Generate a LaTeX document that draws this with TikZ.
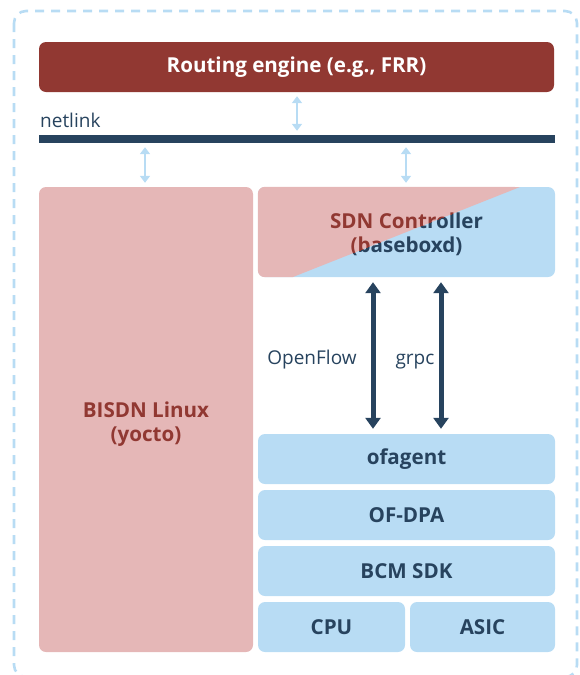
\documentclass[tikz,border=0pt]{standalone}
\usepackage{fontspec}
\setmainfont{Open Sans}
\usetikzlibrary{arrows.meta}
\definecolor{dred}{HTML}{913832}
\definecolor{pinkf}{HTML}{E5B7B7}
\definecolor{lblue}{HTML}{B8DCF4}
\definecolor{navy}{HTML}{27435E}
\begin{document}
\begin{tikzpicture}[x=1pt,y=-1pt,
  blk/.style={rounded corners=7pt, inner sep=0pt, font=\fontsize{20.6}{24}\selectfont\bfseries, align=center},
  bluebox/.style={blk, fill=lblue, text=navy},
  pinkbox/.style={blk, fill=pinkf, text=dred},
  lbl/.style={inner sep=0pt, text=navy, font=\fontsize{19}{24}\selectfont},
  larr/.style={draw=lblue, line width=2.6pt, {Triangle[width=10pt,length=7pt]}-{Triangle[width=10pt,length=7pt]}},
  darr/.style={draw=navy, line width=5pt, {Triangle[width=15pt,length=11pt]}-{Triangle[width=15pt,length=11pt]}}
]
\useasboundingbox (0,0) rectangle (579,675);
% outer dashed frame
\draw[lblue, line width=2.6pt, dash pattern=on 9pt off 7pt, rounded corners=12pt] (14,11) rectangle (577,677);

% routing engine
\node[blk, fill=dred, text=white, minimum width=515pt, minimum height=50pt] (re) at (296.5,67) {Routing engine (e.g., FRR)};
% netlink bar
\node[fill=navy, inner sep=0pt, minimum width=516pt, minimum height=8pt] (bar) at (297,139) {};
\node[lbl, anchor=base west] (nl) at (40,127) {netlink};

% left box
\node[pinkbox, minimum width=214pt, minimum height=465pt] (bisdn) at (146,419.5) {};
\node[blk, text=dred] (bisdnt) at (146,424.5) {BISDN Linux\\(yocto)};

% SDN controller (two-tone)
\node[blk, fill=lblue, minimum width=297pt, minimum height=90pt] (sdn) at (406.5,232) {};
\begin{scope}
  \clip[rounded corners=7pt] (sdn.north west) rectangle (sdn.south east);
  \fill[pinkf] (sdn.north west) -- (520,187) -- (293,277) -- (sdn.south west) -- cycle;
\end{scope}
\begin{scope}
  \clip (sdn.north west) -- (520,187) -- (293,277) -- (sdn.south west) -- cycle;
  \node[blk, text=dred] (sdnt1) at (406.5,234) {SDN Controller\\(baseboxd)};
\end{scope}
\begin{scope}
  \clip (520,187) -- (sdn.north east) -- (sdn.south east) -- (293,277) -- cycle;
  \node[blk, text=navy] (sdnt2) at (406.5,234) {SDN Controller\\(baseboxd)};
\end{scope}

% stack
\node[bluebox, minimum width=297pt, minimum height=50pt] (ofa) at (406.5,459) {ofagent};
\node[bluebox, minimum width=297pt, minimum height=50pt] (ofdpa) at (406.5,515) {OF-DPA};
\node[bluebox, minimum width=297pt, minimum height=50pt] (bcm) at (406.5,571) {BCM SDK};
\node[bluebox, minimum width=147pt, minimum height=50pt] (cpu) at (331.5,627) {CPU};
\node[bluebox, minimum width=145pt, minimum height=50pt] (asic) at (482.5,627) {ASIC};

% light arrows
\coordinate (xa) at (297,0);
\coordinate (xb) at (145,0);
\coordinate (xc) at (406,0);
\draw[larr, shorten <=4pt, shorten >=4pt] (re.south -| xa) -- (bar.north -| xa);
\draw[larr, shorten <=4pt, shorten >=4pt] (bar.south -| xb) -- (bisdn.north -| xb);
\draw[larr, shorten <=4pt, shorten >=4pt] (bar.south -| xc) -- (sdn.north -| xc);

% dark arrows
\coordinate (xd) at (373,0);
\coordinate (xe) at (441,0);
\draw[darr, shorten <=5pt, shorten >=5pt] (sdn.south -| xd) -- (ofa.north -| xd);
\draw[darr, shorten <=5pt, shorten >=5pt] (sdn.south -| xe) -- (ofa.north -| xe);

\node[lbl, anchor=base] (of) at (312,364) {OpenFlow};
\node[lbl, anchor=base] (gr) at (415,364) {grpc};
\end{tikzpicture}
\end{document}
